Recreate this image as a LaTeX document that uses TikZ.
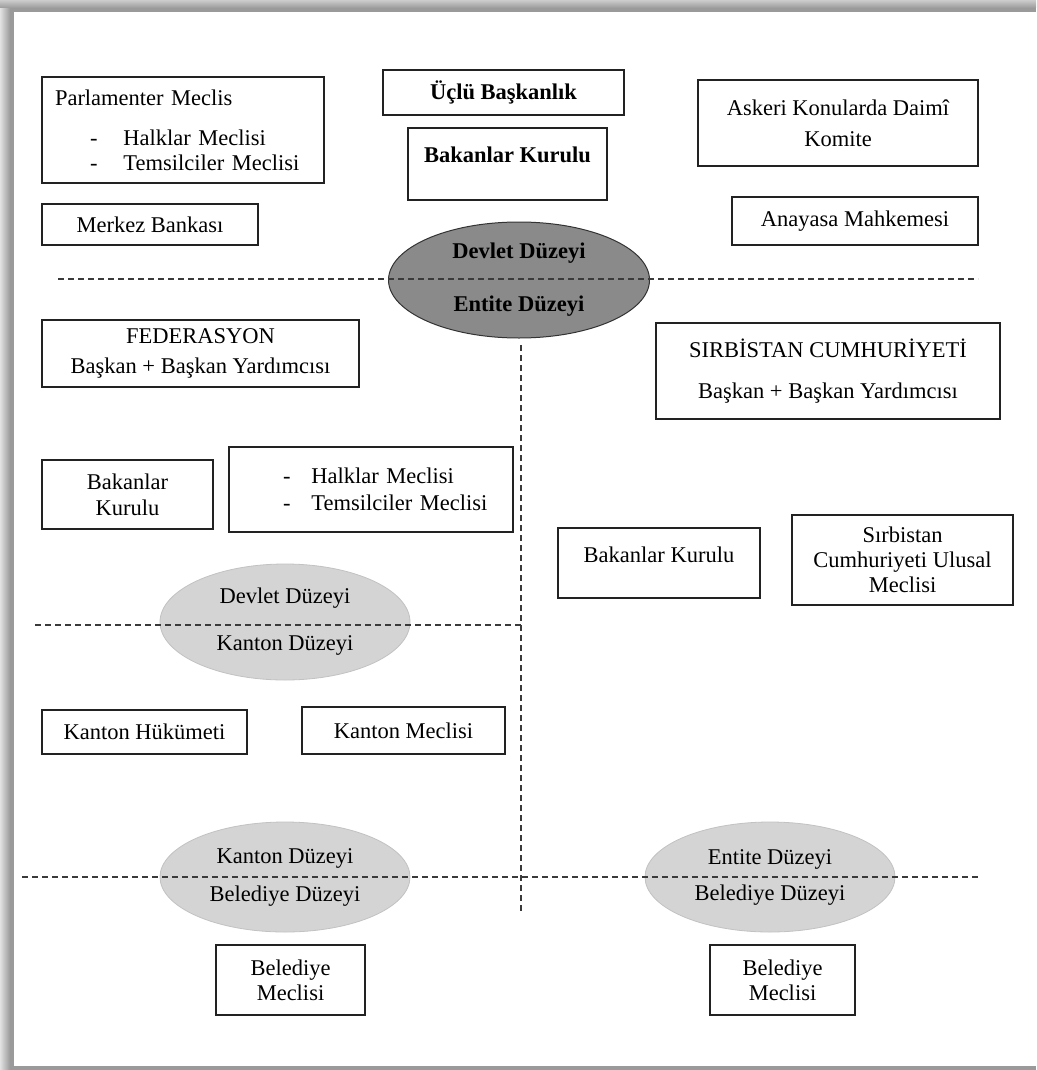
\documentclass[tikz,border=0pt]{standalone}
\usepackage{fontspec}
\setmainfont{Liberation Serif}
\usetikzlibrary{shapes.geometric}
\definecolor{framegray}{HTML}{9A9A9A}
\definecolor{framelight}{HTML}{E2E2E2}
\definecolor{boxline}{HTML}{222222}
\definecolor{darkell}{HTML}{8A8A8A}
\definecolor{darkellline}{HTML}{333333}
\definecolor{lightell}{HTML}{D4D4D4}
\definecolor{lightellline}{HTML}{C2C2C2}
\definecolor{dashcol}{HTML}{3A3A3A}
\begin{document}
\begin{tikzpicture}[x=1pt,y=-1pt,
  font=\fontsize{22.5}{25}\selectfont,
  box/.style={draw=boxline, line width=1.5pt, fill=white, align=center, inner sep=4pt},
  upper/.style={text height=15pt, text depth=19pt},
  darklvl/.style={ellipse, draw=darkellline, line width=1pt, fill=darkell, align=center, inner sep=0pt},
  lightlvl/.style={ellipse, draw=lightellline, line width=0.8pt, fill=lightell, align=center, inner sep=0pt},
  sepline/.style={draw=dashcol, line width=1.3pt, dash pattern=on 6pt off 4pt}]
\useasboundingbox (0,0) rectangle (1036,1070);
% frame
\fill[framegray] (0,0) rectangle (1036,1070);
\shade[left color=framelight, right color=framegray] (0,0) rectangle (10,1070);
\shade[top color=framelight!70!framegray, bottom color=framegray] (0,0) rectangle (1036,8);
\fill[white] (14,12) rectangle (1036,1066);

% top state level boxes
\node[box, minimum width=241pt, minimum height=45pt] (ucl) at (503.5,92.5) {\textbf{Üçlü Başkanlık}};
\node[box, minimum width=282pt, minimum height=106pt, text width=274pt, align=left] (parl) at (183,130)
  {\hspace*{9pt}Parlamenter Meclis\\[15pt]\hspace*{44pt}-\hspace{26pt}Halklar Meclisi\\\hspace*{44pt}-\hspace{26pt}Temsilciler Meclisi};
\node[box, minimum width=280pt, minimum height=86pt] (ask) at (838,123) {Askeri Konularda Daimî\\[6pt]Komite};
\node[box, upper, minimum width=199pt, minimum height=72pt] (bak) at (507.5,164) {\textbf{Bakanlar Kurulu}};
\node[box, minimum width=216pt, minimum height=41pt] (mb) at (150,224.5) {Merkez Bankası};
\node[box, minimum width=246pt, minimum height=48pt] (am) at (855,221) {Anayasa Mahkemesi};

% central level ellipse
\node[darklvl, minimum width=261pt, minimum height=116pt] (devent) at (519,280)
  {\textbf{Devlet Düzeyi}\\[28pt]\textbf{Entite Düzeyi}};

% entity level boxes
\node[box, minimum width=317pt, minimum height=67pt] (fed) at (200.5,353.5) {FEDERASYON\\[5pt]Başkan + Başkan Yardımcısı};
\node[box, minimum width=344pt, minimum height=96pt] (srb) at (828,371) {SIRBİSTAN CUMHURİYETİ\\[16pt]Başkan + Başkan Yardımcısı};
\node[box, minimum width=171pt, minimum height=69pt] (bakl) at (127.5,494.5) {Bakanlar\\[1pt]Kurulu};
\node[box, minimum width=284pt, minimum height=85pt, text width=276pt, align=left] (hal) at (371,489.5)
  {\hspace*{50pt}-\hspace{21pt}Halklar Meclisi\\[2pt]\hspace*{50pt}-\hspace{21pt}Temsilciler Meclisi};
\node[box, text height=15pt, text depth=16pt, minimum width=202pt, minimum height=70pt] (bakr) at (659,563) {Bakanlar Kurulu};
\node[box, minimum width=221pt, minimum height=90pt] (srbu) at (902.5,560) {Sırbistan\\Cumhuriyeti Ulusal\\Meclisi};

% canton level
\node[lightlvl, minimum width=250pt, minimum height=116pt] (devkan) at (285,622)
  {Devlet Düzeyi\\[22pt]Kanton Düzeyi};
\node[box, minimum width=205pt, minimum height=44pt] (kh) at (144.5,732) {Kanton Hükümeti};
\node[box, minimum width=203pt, minimum height=47pt] (km) at (403.5,730.5) {Kanton Meclisi};

% municipal level
\node[lightlvl, minimum width=250pt, minimum height=110pt] (kanbel) at (285,877)
  {Kanton Düzeyi\\[13pt]Belediye Düzeyi};
\node[lightlvl, minimum width=250pt, minimum height=110pt] (entbel) at (770,877)
  {Entite Düzeyi\\[11pt]Belediye Düzeyi};
\node[box, minimum width=149pt, minimum height=70pt] (bell) at (290.5,980) {Belediye\\Meclisi};
\node[box, minimum width=145pt, minimum height=70pt] (belr) at (782.5,980) {Belediye\\Meclisi};

% dashed separators
\coordinate (h1a) at (58,279);  \coordinate (h1b) at (978,279);
\coordinate (h2a) at (35,625);  \coordinate (h2b) at (522,625);
\coordinate (h3a) at (22,877);  \coordinate (h3b) at (978,877);
\coordinate (vtop) at (521,345); \coordinate (vbot) at (521,912);
\draw[sepline] (h1a) -- (h1b);
\draw[sepline] (h2a) -- (h2b);
\draw[sepline] (h3a) -- (h3b);
\draw[sepline] (vtop) -- (vbot);
\end{tikzpicture}
\end{document}
